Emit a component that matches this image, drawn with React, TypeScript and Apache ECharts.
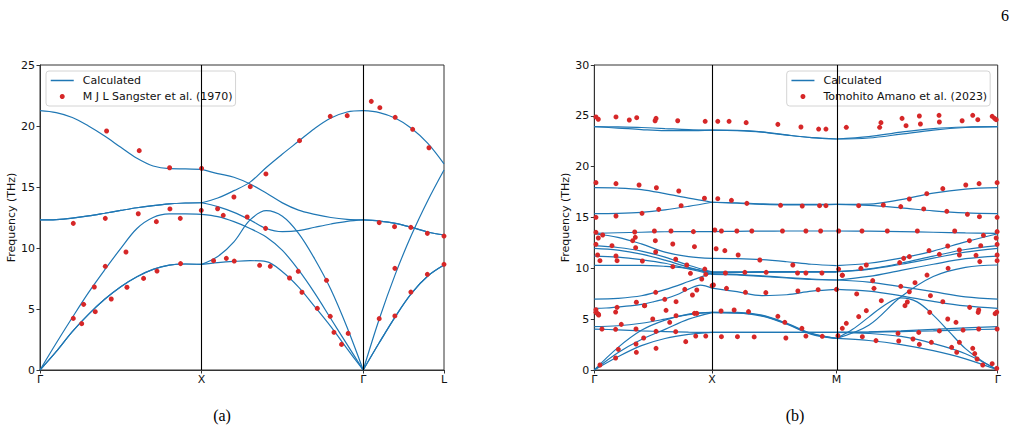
import React, { useEffect, useRef } from "react";
import * as echarts from "echarts";

// ---------- (a) NaCl-type dispersion along Γ–X–Γ–L ----------
const KPATH_A = [0, 1, 2, 2.5];
const KLABELS_A = ["Γ", "X", "Γ", "L"];

// calculated branches, frequencies (THz) at evenly spaced points of each segment
const BANDS_A_GX = [
  [21.26, 21.1, 20.7, 20.0, 19.18, 18.25, 17.35, 16.72, 16.5, 16.48, 16.45],
  [12.3, 12.33, 12.45, 12.63, 12.85, 13.08, 13.3, 13.48, 13.62, 13.69, 13.71],
  [12.3, 12.33, 12.45, 12.63, 12.85, 13.08, 13.3, 13.48, 13.62, 13.69, 13.71],
  [0, 2.19, 4.3, 6.34, 8.2, 9.97, 11.6, 12.5, 12.79, 12.8, 12.76],
  [0, 1.5, 3.14, 4.56, 5.8, 6.83, 7.65, 8.25, 8.6, 8.69, 8.66],
  [0, 1.5, 3.14, 4.56, 5.8, 6.83, 7.65, 8.25, 8.6, 8.69, 8.66],
];
const BANDS_A_XG = [
  [16.45, 16.1, 15.8, 15.25, 14.5, 13.7, 13.1, 12.76, 12.5, 12.35, 12.3],
  [13.71, 14.1, 14.7, 15.4, 16.6, 17.7, 18.75, 19.8, 20.65, 21.15, 21.26],
  [13.71, 13.39, 12.92, 12.3, 11.6, 11.34, 11.42, 11.7, 11.97, 12.19, 12.3],
  [12.76, 12.57, 12.16, 11.6, 10.9, 9.8, 8.2, 6.3, 4.2, 2.1, 0],
  [8.66, 9.3, 10.5, 12.3, 13.06, 12.6, 11.2, 9.1, 6.6, 3.5, 0],
  [8.66, 8.8, 8.9, 8.96, 8.88, 8.06, 6.8, 5.2, 3.55, 1.75, 0],
];
const BANDS_A_GL = [
  [21.26, 21.1, 20.63, 19.8, 18.58, 16.9],
  [12.3, 12.21, 12.02, 11.69, 11.31, 11.07],
  [12.3, 12.21, 12.02, 11.69, 11.31, 11.07],
  [0, 4.2, 7.9, 11.1, 13.9, 16.4],
  [0, 2.25, 4.4, 6.3, 7.7, 8.6],
  [0, 2.25, 4.4, 6.3, 7.7, 8.6],
];

// neutron data, [path position, THz]
const EXP_A = [
  [0.206, 4.23], [0.258, 3.8], [0.27, 5.38], [0.336, 6.8], [0.342, 4.78], [0.404, 8.5],
  [0.404, 12.43], [0.412, 19.59], [0.441, 5.82], [0.532, 9.67], [0.538, 6.78], [0.614, 17.98],
  [0.608, 12.81], [0.641, 7.51], [0.72, 12.16], [0.724, 8.11], [0.802, 16.58], [0.804, 13.2],
  [0.868, 12.43], [0.87, 8.72], [0.206, 12.02], [1.0, 16.53], [0.998, 13.09],
  [1.074, 8.96], [1.099, 13.22], [1.134, 12.68], [1.153, 9.15], [1.202, 8.93], [1.2, 14.18],
  [1.282, 12.54], [1.301, 15.03], [1.359, 8.58], [1.398, 16.07], [1.396, 11.61], [1.425, 8.5],
  [1.544, 7.54], [1.598, 8.09], [1.606, 18.8], [1.621, 6.37], [1.716, 5.05], [1.773, 7.35],
  [1.796, 4.4], [1.796, 20.79], [1.819, 3.09], [1.866, 2.1], [1.901, 20.85], [1.907, 3.0],
  [2.05, 22.02], [2.103, 21.5], [2.099, 12.08], [2.099, 4.21], [2.196, 8.33], [2.194, 11.75],
  [2.198, 20.71], [2.196, 4.43], [2.295, 11.69], [2.295, 6.39], [2.306, 19.73], [2.397, 11.2],
  [2.397, 7.84], [2.407, 18.22], [2.5, 10.98], [2.5, 8.66],
];

// ---------- (b) tetragonal dispersion along Γ–X–M–Γ ----------
const KPATH_B = [0, 1, 2.056, 3.424];
const KLABELS_B = ["Γ", "X", "M", "Γ"];

const BANDS_B_GX = [
  [23.93, 23.92, 23.85, 23.75, 23.65, 23.6],
  [23.93, 23.8, 23.65, 23.55, 23.55, 23.6],
  [17.93, 17.9, 17.75, 17.35, 16.9, 16.5],
  [15.38, 15.4, 15.5, 15.75, 16.1, 16.5],
  [13.44, 13.5, 13.55, 13.6, 13.62, 13.62],
  [13.4, 13.05, 12.4, 11.6, 11.15, 10.98],
  [12.23, 12.05, 11.7, 11.1, 10.3, 9.65],
  [11.97, 11.8, 11.4, 10.8, 10.1, 9.45],
  [11.21, 11.1, 10.85, 10.5, 9.95, 9.4],
  [10.3, 10.3, 10.3, 10.2, 10.0, 9.6],
  [6.98, 7.05, 7.3, 7.9, 8.7, 9.55],
  [6.07, 6.1, 6.2, 6.3, 6.45, 6.7, 7.0, 7.4, 7.95, 8.35, 8.05],
  [4.26, 4.35, 4.6, 5.0, 5.45, 5.67],
  [4.03, 3.95, 3.85, 3.78, 3.72, 3.7],
  [0, 2.2, 3.9, 4.9, 5.5, 5.67],
  [0, 1.7, 3.0, 4.0, 5.0, 5.65],
  [0, 1.3, 2.4, 3.1, 3.5, 3.7],
];
const BANDS_B_XM = [
  [23.6, 23.55, 23.4, 23.1, 22.85, 22.72],
  [23.6, 23.57, 23.42, 23.12, 22.86, 22.72],
  [16.5, 16.45, 16.35, 16.3, 16.3, 16.3],
  [16.5, 16.4, 16.3, 16.25, 16.25, 16.3],
  [13.62, 13.64, 13.66, 13.67, 13.67, 13.67],
  [10.98, 10.95, 10.85, 10.65, 10.4, 10.26],
  [9.65, 9.65, 9.67, 9.67, 9.67, 9.67],
  [9.55, 9.6, 9.63, 9.65, 9.67, 9.67],
  [9.6, 9.6, 9.62, 9.62, 9.63, 9.63],
  [9.45, 9.4, 9.25, 9.1, 8.95, 8.85],
  [9.4, 9.35, 9.2, 9.05, 8.9, 8.85],
  [8.05, 7.7, 7.32, 7.4, 7.75, 7.93],
  [5.67, 5.67, 5.4, 4.6, 3.6, 3.11],
  [5.67, 5.62, 5.3, 4.5, 3.5, 3.11],
  [5.65, 5.6, 5.35, 4.55, 3.55, 3.11],
  [3.7, 3.7, 3.7, 3.7, 3.7, 3.7],
  [3.7, 3.7, 3.71, 3.71, 3.7, 3.7],
];
const BANDS_B_MG = [
  [22.72, 22.95, 23.4, 23.75, 23.9, 23.93],
  [22.72, 22.82, 23.2, 23.6, 23.85, 23.93],
  [16.3, 16.32, 16.75, 17.4, 17.8, 17.93],
  [16.3, 16.2, 15.95, 15.65, 15.45, 15.38],
  [13.67, 13.66, 13.62, 13.55, 13.48, 13.44],
  [10.26, 10.5, 11.0, 11.7, 12.6, 13.4],
  [9.67, 9.95, 10.5, 11.2, 11.85, 12.23],
  [9.67, 9.9, 10.4, 11.0, 11.6, 11.97],
  [8.85, 9.2, 9.8, 10.4, 10.95, 11.21],
  [8.85, 8.65, 8.2, 7.7, 7.2, 6.98],
  [7.93, 7.75, 7.3, 6.75, 6.3, 6.07],
  [3.11, 4.4, 7.2, 9.2, 10.1, 10.33],
  [3.11, 4.0, 5.2, 6.4, 7.1, 6.7, 5.4, 3.75, 2.1, 0.9, 0],
  [3.7, 3.75, 3.85, 4.0, 4.15, 4.26],
  [3.7, 3.72, 3.78, 3.85, 3.95, 4.03],
  [3.7, 3.6, 3.3, 2.6, 1.6, 0],
  [3.11, 2.9, 2.5, 1.9, 1.1, 0],
];

const EXP_B = [
  [0.014, 24.89], [0.034, 24.66], [0.184, 24.89], [0.297, 24.59], [0.36, 24.82], [0.516, 24.52],
  [0.524, 24.75], [0.708, 24.52], [0.941, 24.46], [1.048, 24.46], [1.144, 24.46], [1.289, 24.33],
  [1.558, 24.16], [1.754, 23.9], [1.904, 23.7], [1.966, 23.7], [2.139, 23.87], [2.422, 23.87],
  [2.433, 24.33], [2.612, 24.75], [2.646, 24.03], [2.759, 24.98], [2.768, 24.2], [2.926, 25.05],
  [2.929, 24.39], [3.122, 24.52], [3.212, 25.05], [3.255, 24.62], [3.377, 24.95], [3.397, 24.75],
  [3.411, 24.62],
  [0.014, 18.43], [0.184, 18.33], [0.38, 18.2], [0.527, 17.93], [0.717, 17.61], [0.935, 16.89],
  [1.048, 16.85], [1.164, 16.69], [1.295, 16.39], [1.581, 16.2], [1.765, 16.13], [1.912, 16.16],
  [1.966, 16.16], [2.244, 16.16], [2.453, 16.23], [2.601, 16.07], [2.674, 16.82], [2.796, 15.84],
  [2.822, 17.34], [2.958, 17.84], [2.992, 15.61], [3.153, 18.2], [3.167, 15.31], [3.266, 18.33],
  [3.269, 15.08], [3.419, 18.43], [3.419, 15.02], [0.014, 15.02], [0.184, 15.15], [0.405, 15.41],
  [0.547, 15.8], [0.737, 16.16],
  [0.014, 13.54], [0.034, 12.98], [0.014, 12.36], [0.028, 11.31], [0.048, 10.75], [0.071, 13.28],
  [0.15, 12.23], [0.184, 11.21], [0.193, 10.75], [0.343, 13.57], [0.348, 13.05], [0.326, 12.72],
  [0.351, 12.03], [0.408, 10.72], [0.51, 13.67], [0.518, 12.72], [0.521, 11.61], [0.651, 13.67],
  [0.666, 12.39], [0.666, 10.16], [0.691, 10.89], [0.785, 10.33], [0.816, 9.51], [0.841, 13.61],
  [0.85, 12.13], [0.912, 8.95], [0.938, 9.93], [0.946, 9.41], [1.023, 13.77], [1.034, 11.93],
  [1.079, 13.67], [1.108, 11.74], [1.113, 9.54], [1.221, 11.31], [1.21, 13.67], [1.278, 9.61],
  [1.337, 13.67], [1.405, 10.82], [1.459, 9.61], [1.597, 13.67], [1.685, 10.33], [1.725, 9.54],
  [1.796, 13.67], [1.796, 9.54], [1.921, 13.67], [1.932, 9.54], [2.074, 13.67], [2.074, 9.93],
  [2.105, 9.31], [2.272, 13.67], [2.263, 10.0], [2.309, 10.33], [2.487, 13.67], [2.592, 10.56],
  [2.626, 10.98], [2.674, 11.15], [2.742, 13.67], [2.841, 11.74], [2.929, 11.38], [3.0, 12.2],
  [3.003, 10.0], [3.059, 13.67], [3.099, 11.8], [3.099, 11.31], [3.184, 12.72], [3.24, 11.28],
  [3.272, 10.66], [3.28, 12.23], [3.303, 13.25], [3.411, 12.98], [3.419, 12.36], [3.419, 11.31],
  [3.419, 10.75], [3.419, 13.61],
  [1.0, 8.3], [1.011, 8.36], [1.122, 8.03], [1.283, 7.64], [1.456, 7.61], [1.728, 7.77],
  [1.9, 7.9], [2.056, 7.93], [0.768, 7.93], [0.833, 7.38], [0.87, 7.87], [0.85, 5.57],
  [0.694, 6.72], [0.598, 6.95], [0.521, 7.64], [0.425, 6.33], [0.357, 6.66], [0.193, 6.16],
  [0.181, 5.7], [0.034, 5.48], [0.014, 5.67], [0.776, 2.79], [0.861, 3.34], [0.946, 3.34],
  [1.079, 3.28], [1.215, 3.28], [1.357, 3.25], [1.558, 5.28], [1.617, 4.69], [1.626, 3.15],
  [1.762, 4.1], [1.796, 3.34], [1.935, 3.31], [2.068, 3.38], [2.105, 4.1], [2.139, 4.59],
  [1.076, 5.8], [1.187, 5.9], [1.309, 5.74], [2.105, 9.34], [2.244, 5.25], [2.309, 5.84],
  [2.275, 3.28], [2.391, 2.89], [2.227, 7.48], [2.363, 8.79], [2.374, 8.03], [2.436, 6.82],
  [2.578, 3.61], [2.584, 2.85], [2.601, 8.23], [2.657, 6.69], [2.637, 6.33], [2.674, 7.7],
  [2.722, 8.59], [2.754, 3.7], [2.759, 2.52], [2.705, 3.05], [2.824, 9.34], [2.853, 7.31],
  [2.847, 5.67], [2.861, 2.72], [2.929, 3.84], [2.958, 6.72], [3.0, 5.02], [3.033, 2.23],
  [3.07, 4.69], [3.076, 1.74], [3.099, 2.72], [3.13, 3.93], [3.186, 6.16], [3.212, 2.13],
  [3.229, 1.61], [3.249, 1.08], [3.258, 5.67], [3.263, 5.9], [3.263, 4.03], [3.297, 0.49],
  [3.377, 0.62], [3.402, 5.54], [3.416, 5.7], [3.419, 4.03], [3.416, 0.16],
  [0.014, 5.93], [0.025, 5.57], [0.037, 5.41], [0.065, 4.03], [0.048, 0.49], [0.181, 4.0],
  [0.181, 1.18], [0.204, 2.03], [0.229, 4.49], [0.354, 4.03], [0.354, 2.56], [0.357, 1.74],
  [0.419, 3.15], [0.428, 6.33], [0.496, 5.02], [0.524, 3.8], [0.524, 2.13], [0.609, 5.87],
  [0.64, 4.69], [0.691, 3.77], [0.694, 5.34], [0.87, 5.57],
];

const LINE_NAME = "Calculated";
const EXP_NAME_A = "M J L Sangster et al. (1970)";
const EXP_NAME_B = "Tomohito Amano et al. (2023)";
const BLUE = "#1f77b4";
const RED = "#d62728";
const FONT = "DejaVu Sans";

function segmentPoints(x0: number, x1: number, ys: number[]) {
  const n = ys.length - 1;
  return ys.map((y, i) => [x0 + ((x1 - x0) * i) / n, y]);
}

function bandSeries(path: number[], segments: number[][][], axis: number) {
  const out: any[] = [];
  segments.forEach((bands, s) => {
    bands.forEach((ys) => {
      out.push({
        type: "line",
        name: LINE_NAME,
        xAxisIndex: axis,
        yAxisIndex: axis,
        data: segmentPoints(path[s], path[s + 1], ys),
        smooth: 0.35,
        symbol: "none",
        showSymbol: false,
        silent: true,
        lineStyle: { color: BLUE, width: 1.2 },
        itemStyle: { color: BLUE },
        z: 2,
      });
    });
  });
  // vertical separators at the inner high-symmetry points
  out[0].markLine = {
    silent: true,
    symbol: "none",
    label: { show: false },
    lineStyle: { color: "#000", width: 1.1, type: "solid" },
    data: path.slice(1, -1).map((v) => ({ xAxis: v })),
  };
  return out;
}

function xAxisFor(grid: number, path: number[], labels: string[]) {
  return {
    type: "value",
    gridIndex: grid,
    min: path[0],
    max: path[path.length - 1],
    axisLine: { show: true, onZero: false, lineStyle: { color: "#333", width: 1 } },
    axisTick: { show: true, length: 3.5, customValues: path, lineStyle: { color: "#333" } },
    axisLabel: {
      show: true,
      customValues: path,
      margin: 4,
      fontSize: 11,
      fontFamily: FONT,
      color: "#111",
      formatter: (v: number) => {
        let best = 0;
        path.forEach((p, i) => {
          if (Math.abs(p - v) < Math.abs(path[best] - v)) best = i;
        });
        return labels[best];
      },
    },
    splitLine: { show: false },
  };
}

function yAxisFor(grid: number, max: number) {
  return {
    type: "value",
    gridIndex: grid,
    min: 0,
    max,
    interval: 5,
    name: "Frequency (THz)",
    nameLocation: "middle",
    nameGap: 22,
    nameTextStyle: { fontSize: 11, fontFamily: FONT, color: "#111" },
    axisLine: { show: true, lineStyle: { color: "#333", width: 1 } },
    axisTick: { show: true, length: 3.5, lineStyle: { color: "#333" } },
    axisLabel: { margin: 5, fontSize: 11, fontFamily: FONT, color: "#111" },
    splitLine: { show: false },
  };
}

function legendFor(left: number, expName: string) {
  return {
    show: true,
    left,
    top: 71,
    orient: "vertical",
    selectedMode: false,
    backgroundColor: "#fff",
    borderColor: "#d4d4d4",
    borderWidth: 1,
    borderRadius: 3,
    padding: [4, 3, 4, 4],
    itemGap: 5,
    itemWidth: 23,
    itemHeight: 5,
    textStyle: { fontSize: 11, fontFamily: FONT, color: "#111", padding: [0, 0, 0, 4] },
    data: [
      { name: LINE_NAME, itemStyle: { opacity: 0 }, lineStyle: { color: BLUE, width: 1.5 } },
      { name: expName, icon: "circle", itemStyle: { color: RED, opacity: 1 } },
    ],
  };
}

export default function App() {
  const ref = useRef<HTMLDivElement>(null);

  useEffect(() => {
    if (!ref.current) return;
    const chart = echarts.init(ref.current, undefined, { renderer: "svg" });
    const option: any = {
      animation: false,
      backgroundColor: "#fff",
      grid: [
        { left: 40, top: 65, width: 404, height: 305, show: true, borderColor: "#333", borderWidth: 1, containLabel: false },
        { left: 594.3, top: 65, width: 403.4, height: 305, show: true, borderColor: "#333", borderWidth: 1, containLabel: false },
      ],
      xAxis: [xAxisFor(0, KPATH_A, KLABELS_A), xAxisFor(1, KPATH_B, KLABELS_B)],
      yAxis: [yAxisFor(0, 25), yAxisFor(1, 30)],
      legend: [legendFor(46, EXP_NAME_A), legendFor(786.7, EXP_NAME_B)],
      series: [
        ...bandSeries(KPATH_A, [BANDS_A_GX, BANDS_A_XG, BANDS_A_GL], 0),
        {
          type: "scatter",
          name: EXP_NAME_A,
          xAxisIndex: 0,
          yAxisIndex: 0,
          data: EXP_A,
          symbolSize: 5,
          itemStyle: { color: RED, opacity: 1 },
          silent: true,
          z: 3,
        },
        ...bandSeries(KPATH_B, [BANDS_B_GX, BANDS_B_XM, BANDS_B_MG], 1),
        {
          type: "scatter",
          name: EXP_NAME_B,
          xAxisIndex: 1,
          yAxisIndex: 1,
          data: EXP_B,
          symbolSize: 5,
          itemStyle: { color: RED, opacity: 1 },
          silent: true,
          z: 3,
        },
      ],
      graphic: [
        { type: "text", x: 222, y: 415, style: { text: "(a)", fontSize: 16, fontFamily: "Liberation Serif", fill: "#000", align: "center", verticalAlign: "middle" } },
        { type: "text", x: 795, y: 415, style: { text: "(b)", fontSize: 16, fontFamily: "Liberation Serif", fill: "#000", align: "center", verticalAlign: "middle" } },
        { type: "text", x: 1005, y: 15, style: { text: "6", fontSize: 16, fontFamily: "Liberation Serif", fill: "#000", align: "center", verticalAlign: "middle" } },
      ],
    };
    chart.setOption(option);
    return () => chart.dispose();
  }, []);

  return (
    <div
      ref={ref}
      style={{ position: "absolute", left: 0, top: 0, width: 1018, height: 431, background: "#fff" }}
    />
  );
}
